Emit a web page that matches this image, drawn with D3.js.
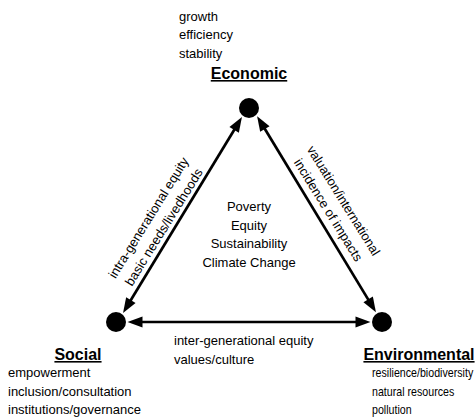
<!DOCTYPE html>
<html>
<head>
<meta charset="utf-8">
<script src="https://cdn.jsdelivr.net/npm/d3@7"></script>
<style>
  body { margin: 0; background: #fff; }
  text { font-family: "Liberation Sans", Arial, sans-serif; fill: #000; }
</style>
</head>
<body>
<div id="chart"></div>
<script>
// Nodes of the triangle (unit coordinates)
const nodes = [
  { name: "Social", x: 0, y: 0 },
  { name: "Environmental", x: 1, y: 0 },
  { name: "Economic", x: 0.5, y: 1 }
];
const economicItems = ["growth", "efficiency", "stability"];
const socialItems = ["empowerment", "inclusion/consultation", "institutions/governance"];
const environmentalItems = ["resilience/biodiversity", "natural resources", "pollution"];
const centerTerms = ["Poverty", "Equity", "Sustainability", "Climate Change"];
const edges = [
  { from: "Social", to: "Economic", lines: ["intra-generational equity", "basic needs/livedhoods"] },
  { from: "Economic", to: "Environmental", lines: ["valuation/international", "incidence of impacts"] },
  { from: "Social", to: "Environmental", lines: ["inter-generational equity", "values/culture"] }
];

const width = 475, height = 419;
const svg = d3.select("#chart").append("svg")
  .attr("width", width)
  .attr("height", height);

const x = d3.scaleLinear().domain([0, 1]).range([116, 382]);
const y = d3.scaleLinear().domain([0, 1]).range([322, 108]);
const r = 10;
const byName = new Map(nodes.map(d => [d.name, d]));

// the arrows in the original are drawn by hand, slightly off the centre lines
const nudge = [[6, 6], [-13, 0], [0, 0]];

// double headed arrows between the nodes
const headLen = 15, headHalf = 5.5;
edges.forEach((e, k) => {
  const a = byName.get(e.from), b = byName.get(e.to);
  const ax = x(a.x), ay = y(a.y), bx = x(b.x), by = y(b.y);
  const base = Math.atan2(by - ay, bx - ax);
  const a1 = base + nudge[k][0] * Math.PI / 180;
  const a2 = base + Math.PI + nudge[k][1] * Math.PI / 180;
  const t1 = [ax + Math.cos(a1) * (r + 1.5), ay + Math.sin(a1) * (r + 1.5)];
  const t2 = [bx + Math.cos(a2) * (r + 1.5), by + Math.sin(a2) * (r + 1.5)];
  const len = Math.hypot(t2[0] - t1[0], t2[1] - t1[1]);
  const ux = (t2[0] - t1[0]) / len, uy = (t2[1] - t1[1]) / len;
  svg.append("line")
    .attr("x1", t1[0] + ux * (headLen - 2)).attr("y1", t1[1] + uy * (headLen - 2))
    .attr("x2", t2[0] - ux * (headLen - 2)).attr("y2", t2[1] - uy * (headLen - 2))
    .attr("stroke", "#000").attr("stroke-width", 2.7);
  [[t1, 1], [t2, -1]].forEach(([tip, s]) => {
    const bxp = tip[0] + s * ux * headLen, byp = tip[1] + s * uy * headLen;
    svg.append("path")
      .attr("d", `M${tip[0]},${tip[1]}L${bxp - uy * headHalf},${byp + ux * headHalf}L${bxp + uy * headHalf},${byp - ux * headHalf}Z`)
      .attr("fill", "#000");
  });
});

// node circles
svg.selectAll("circle.node")
  .data(nodes)
  .enter().append("circle")
  .attr("class", "node")
  .attr("cx", d => x(d.x))
  .attr("cy", d => y(d.y))
  .attr("r", r)
  .attr("fill", "#000");

function title(name, tx, ty) {
  svg.append("text")
    .attr("x", tx).attr("y", ty)
    .attr("text-anchor", "middle")
    .attr("font-size", 16).attr("font-weight", "bold")
    .attr("text-decoration", "underline")
    .text(name);
}
function items(list, tx, ty, dy, size) {
  const t = svg.append("text")
    .attr("x", tx).attr("y", ty)
    .attr("font-size", size);
  t.selectAll("tspan").data(list).enter().append("tspan")
    .attr("x", tx)
    .attr("dy", (d, i) => i ? dy : 0)
    .text(d => d);
  return t;
}

const eco = byName.get("Economic"), soc = byName.get("Social"), env = byName.get("Environmental");
title("Economic", x(eco.x), y(eco.y) - 29);
items(economicItems, 179, y(eco.y) - 87, 18.3, 13);
title("Social", x(soc.x) - 38, y(soc.y) + 38);
items(socialItems, 8, y(soc.y) + 55, 18.5, 13);
title("Environmental", x(env.x) + 37, y(env.y) + 38);
// environmental list is set in a narrow face in the original
svg.selectAll("text.envItem")
  .data(environmentalItems)
  .enter().append("text")
  .attr("class", "envItem")
  .attr("transform", (d, i) => `translate(372,${y(env.y) + 55 + i * 18.5}) scale(0.82,1)`)
  .attr("font-size", 13)
  .text(d => d);

// centre text
items(centerTerms, x(0.5), 211, 18.5, 13)
  .attr("text-anchor", "middle");

// edge labels
edges.forEach((e, k) => {
  const a = byName.get(e.from), b = byName.get(e.to);
  const ax = x(a.x), ay = y(a.y), bx = x(b.x), by = y(b.y);
  if (k === 2) {
    e.lines.forEach((s, i) => {
      svg.append("text").attr("x", 174).attr("y", ay + 23 + i * 19)
        .attr("font-size", 13).text(s);
    });
    return;
  }
  const len = Math.hypot(bx - ax, by - ay);
  const ux = (bx - ax) / len, uy = (by - ay) / len;
  const nx = uy, ny = -ux;                 // outward normal
  const ang = Math.atan2(uy, ux) * 180 / Math.PI;
  const along = k === 0 ? 0.42 : 0.51;
  const cx = ax + (bx - ax) * along, cy = ay + (by - ay) * along;
  const offs = k === 0 ? [23, 5] : [27, 9];
  e.lines.forEach((s, i) => {
    const px = cx + nx * offs[i], py = cy + ny * offs[i];
    svg.append("text")
      .attr("transform", `translate(${px},${py}) rotate(${ang})`)
      .attr("text-anchor", "middle")
      .attr("font-size", 13)
      .text(s);
  });
});
</script>
</body>
</html>
